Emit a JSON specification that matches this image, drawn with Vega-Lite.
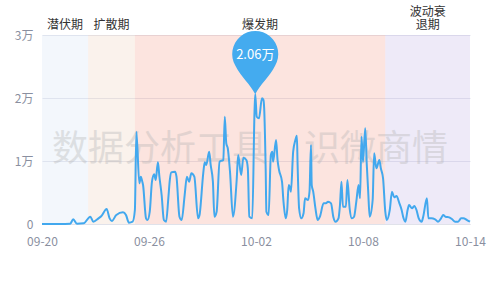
{
  "$schema": "https://vega.github.io/schema/vega-lite/v6.json",
  "width": 428,
  "height": 189,
  "autosize": {"type": "none"},
  "padding": {"left": 42, "top": 35, "right": 30, "bottom": 76},
  "background": "#ffffff",
  "config": {
    "view": {"stroke": null},
    "font": "Noto Sans CJK SC",
    "axis": {"labelFont": "Noto Sans CJK SC", "labelFontSize": 12, "labelColor": "#8a8fa0", "ticks": false, "title": null, "gridColor": "#e3e4ec", "domainColor": "#e0e2ea"}
  },
  "datasets": {
    "series": [
      {"t": "2021-09-20T00:00", "v": 0},
      {"t": "2021-09-21T00:00", "v": 0},
      {"t": "2021-09-21T14:00", "v": 50},
      {"t": "2021-09-21T18:00", "v": 750},
      {"t": "2021-09-21T23:00", "v": 50},
      {"t": "2021-09-22T08:00", "v": 100},
      {"t": "2021-09-22T17:00", "v": 1160},
      {"t": "2021-09-22T21:00", "v": 370},
      {"t": "2021-09-23T04:00", "v": 900},
      {"t": "2021-09-23T08:00", "v": 1270},
      {"t": "2021-09-23T15:00", "v": 2380},
      {"t": "2021-09-23T19:00", "v": 900},
      {"t": "2021-09-23T22:00", "v": 480},
      {"t": "2021-09-24T04:00", "v": 1430},
      {"t": "2021-09-24T13:00", "v": 1850},
      {"t": "2021-09-24T17:00", "v": 1430},
      {"t": "2021-09-24T21:00", "v": 210},
      {"t": "2021-09-25T02:00", "v": 370},
      {"t": "2021-09-25T05:00", "v": 2220},
      {"t": "2021-09-25T07:00", "v": 14650},
      {"t": "2021-09-25T11:00", "v": 6460},
      {"t": "2021-09-25T13:00", "v": 7510},
      {"t": "2021-09-25T15:00", "v": 6720},
      {"t": "2021-09-25T16:00", "v": 6190},
      {"t": "2021-09-25T20:00", "v": 900},
      {"t": "2021-09-25T22:00", "v": 630},
      {"t": "2021-09-26T01:00", "v": 1950},
      {"t": "2021-09-26T04:00", "v": 6720},
      {"t": "2021-09-26T07:00", "v": 7890},
      {"t": "2021-09-26T09:00", "v": 6980},
      {"t": "2021-09-26T12:00", "v": 9790},
      {"t": "2021-09-26T14:00", "v": 7510},
      {"t": "2021-09-26T17:00", "v": 4600},
      {"t": "2021-09-26T20:00", "v": 630},
      {"t": "2021-09-26T23:00", "v": 370},
      {"t": "2021-09-27T02:00", "v": 4080},
      {"t": "2021-09-27T04:00", "v": 6980},
      {"t": "2021-09-27T06:00", "v": 8200},
      {"t": "2021-09-27T11:00", "v": 8310},
      {"t": "2021-09-27T13:00", "v": 7510},
      {"t": "2021-09-27T17:00", "v": 1160},
      {"t": "2021-09-27T20:00", "v": 630},
      {"t": "2021-09-28T00:00", "v": 4600},
      {"t": "2021-09-28T03:00", "v": 7510},
      {"t": "2021-09-28T06:00", "v": 6720},
      {"t": "2021-09-28T09:00", "v": 8040},
      {"t": "2021-09-28T13:00", "v": 7510},
      {"t": "2021-09-28T18:00", "v": 900},
      {"t": "2021-09-28T20:00", "v": 1430},
      {"t": "2021-09-29T01:00", "v": 8040},
      {"t": "2021-09-29T03:00", "v": 9790},
      {"t": "2021-09-29T05:00", "v": 9370},
      {"t": "2021-09-29T09:00", "v": 11480},
      {"t": "2021-09-29T11:00", "v": 9370},
      {"t": "2021-09-29T14:00", "v": 6720},
      {"t": "2021-09-29T16:00", "v": 1160},
      {"t": "2021-09-29T19:00", "v": 1950},
      {"t": "2021-09-29T23:00", "v": 9890},
      {"t": "2021-09-30T04:00", "v": 10160},
      {"t": "2021-09-30T06:00", "v": 17030},
      {"t": "2021-09-30T08:00", "v": 12810},
      {"t": "2021-09-30T10:00", "v": 12020},
      {"t": "2021-09-30T13:00", "v": 8310},
      {"t": "2021-09-30T17:00", "v": 1160},
      {"t": "2021-09-30T22:00", "v": 6980},
      {"t": "2021-10-01T00:00", "v": 10950},
      {"t": "2021-10-01T04:00", "v": 7780},
      {"t": "2021-10-01T07:00", "v": 10520},
      {"t": "2021-10-01T11:00", "v": 10160},
      {"t": "2021-10-01T13:00", "v": 8840},
      {"t": "2021-10-01T15:00", "v": 1160},
      {"t": "2021-10-01T19:00", "v": 900},
      {"t": "2021-10-01T22:00", "v": 17820},
      {"t": "2021-10-01T23:00", "v": 20600},
      {"t": "2021-10-02T01:00", "v": 17030},
      {"t": "2021-10-02T04:00", "v": 16770},
      {"t": "2021-10-02T08:00", "v": 19950},
      {"t": "2021-10-02T10:00", "v": 19680},
      {"t": "2021-10-02T11:00", "v": 18360},
      {"t": "2021-10-02T13:00", "v": 8840},
      {"t": "2021-10-02T14:00", "v": 1950},
      {"t": "2021-10-02T17:00", "v": 1430},
      {"t": "2021-10-02T20:00", "v": 10950},
      {"t": "2021-10-02T22:00", "v": 11480},
      {"t": "2021-10-02T23:00", "v": 9890},
      {"t": "2021-10-03T03:00", "v": 13330},
      {"t": "2021-10-03T05:00", "v": 10160},
      {"t": "2021-10-03T07:00", "v": 8570},
      {"t": "2021-10-03T11:00", "v": 6720},
      {"t": "2021-10-03T13:00", "v": 3540},
      {"t": "2021-10-03T16:00", "v": 900},
      {"t": "2021-10-03T18:00", "v": 2220},
      {"t": "2021-10-03T20:00", "v": 6190},
      {"t": "2021-10-03T22:00", "v": 5660},
      {"t": "2021-10-03T23:00", "v": 5130},
      {"t": "2021-10-04T02:00", "v": 11480},
      {"t": "2021-10-04T05:00", "v": 13330},
      {"t": "2021-10-04T07:00", "v": 14020},
      {"t": "2021-10-04T08:00", "v": 9370},
      {"t": "2021-10-04T10:00", "v": 2490},
      {"t": "2021-10-04T13:00", "v": 900},
      {"t": "2021-10-04T16:00", "v": 1700},
      {"t": "2021-10-04T18:00", "v": 4080},
      {"t": "2021-10-04T22:00", "v": 3810},
      {"t": "2021-10-05T00:00", "v": 5130},
      {"t": "2021-10-05T02:00", "v": 12540},
      {"t": "2021-10-05T03:00", "v": 6190},
      {"t": "2021-10-05T05:00", "v": 5130},
      {"t": "2021-10-05T08:00", "v": 2490},
      {"t": "2021-10-05T11:00", "v": 630},
      {"t": "2021-10-05T14:00", "v": 1160},
      {"t": "2021-10-05T19:00", "v": 3280},
      {"t": "2021-10-05T22:00", "v": 3280},
      {"t": "2021-10-06T01:00", "v": 3540},
      {"t": "2021-10-06T05:00", "v": 3280},
      {"t": "2021-10-06T08:00", "v": 1160},
      {"t": "2021-10-06T11:00", "v": 370},
      {"t": "2021-10-06T15:00", "v": 900},
      {"t": "2021-10-06T17:00", "v": 3020},
      {"t": "2021-10-06T19:00", "v": 6720},
      {"t": "2021-10-06T21:00", "v": 2750},
      {"t": "2021-10-07T01:00", "v": 2750},
      {"t": "2021-10-07T03:00", "v": 6980},
      {"t": "2021-10-07T06:00", "v": 2490},
      {"t": "2021-10-07T09:00", "v": 900},
      {"t": "2021-10-07T12:00", "v": 1160},
      {"t": "2021-10-07T15:00", "v": 3540},
      {"t": "2021-10-07T18:00", "v": 6190},
      {"t": "2021-10-07T20:00", "v": 4080},
      {"t": "2021-10-07T22:00", "v": 13860},
      {"t": "2021-10-08T00:00", "v": 9890},
      {"t": "2021-10-08T03:00", "v": 15190},
      {"t": "2021-10-08T05:00", "v": 9630},
      {"t": "2021-10-08T07:00", "v": 5130},
      {"t": "2021-10-08T09:00", "v": 1160},
      {"t": "2021-10-08T13:00", "v": 3810},
      {"t": "2021-10-08T15:00", "v": 11220},
      {"t": "2021-10-08T18:00", "v": 8840},
      {"t": "2021-10-08T22:00", "v": 10160},
      {"t": "2021-10-09T00:00", "v": 8840},
      {"t": "2021-10-09T03:00", "v": 7250},
      {"t": "2021-10-09T06:00", "v": 1950},
      {"t": "2021-10-09T08:00", "v": 630},
      {"t": "2021-10-09T12:00", "v": 2220},
      {"t": "2021-10-09T15:00", "v": 5130},
      {"t": "2021-10-09T18:00", "v": 4230},
      {"t": "2021-10-09T21:00", "v": 4440},
      {"t": "2021-10-10T01:00", "v": 3280},
      {"t": "2021-10-10T04:00", "v": 2220},
      {"t": "2021-10-10T06:00", "v": 1160},
      {"t": "2021-10-10T09:00", "v": 370},
      {"t": "2021-10-10T12:00", "v": 2220},
      {"t": "2021-10-10T14:00", "v": 3020},
      {"t": "2021-10-10T18:00", "v": 2490},
      {"t": "2021-10-10T21:00", "v": 2860},
      {"t": "2021-10-11T00:00", "v": 2220},
      {"t": "2021-10-11T03:00", "v": 900},
      {"t": "2021-10-11T07:00", "v": 370},
      {"t": "2021-10-11T09:00", "v": 1160},
      {"t": "2021-10-11T14:00", "v": 4080},
      {"t": "2021-10-11T16:00", "v": 900},
      {"t": "2021-10-11T20:00", "v": 900},
      {"t": "2021-10-12T01:00", "v": 750},
      {"t": "2021-10-12T05:00", "v": 370},
      {"t": "2021-10-12T09:00", "v": 900},
      {"t": "2021-10-12T12:00", "v": 1430},
      {"t": "2021-10-12T15:00", "v": 1160},
      {"t": "2021-10-12T20:00", "v": 1060},
      {"t": "2021-10-13T00:00", "v": 750},
      {"t": "2021-10-13T04:00", "v": 370},
      {"t": "2021-10-13T08:00", "v": 370},
      {"t": "2021-10-13T12:00", "v": 900},
      {"t": "2021-10-13T15:00", "v": 900},
      {"t": "2021-10-13T20:00", "v": 630},
      {"t": "2021-10-14T00:00", "v": 370}
    ],
    "phases": [
      {"phase": "潜伏期", "label": "潜伏期", "start": "2021-09-20T00:00", "end": "2021-09-22T14:00"},
      {"phase": "扩散期", "label": "扩散期", "start": "2021-09-22T14:00", "end": "2021-09-25T05:00"},
      {"phase": "爆发期", "label": "爆发期", "start": "2021-09-25T05:00", "end": "2021-10-09T06:00"},
      {"phase": "波动衰退期", "label": "波动衰|退期", "start": "2021-10-09T06:00", "end": "2021-10-14T00:00"}
    ]
  },
  "layer": [
    {
      "data": {"name": "phases"},
      "mark": {"type": "rect", "opacity": 0.3},
      "encoding": {
        "x": {"field": "start", "type": "temporal"},
        "x2": {"field": "end"},
        "color": {
          "field": "phase",
          "type": "nominal",
          "legend": null,
          "scale": {
            "domain": ["潜伏期", "扩散期", "爆发期", "波动衰退期"],
            "range": ["#d7e4f5", "#eed4c0", "#f5a594", "#c6b9e8"]
          }
        }
      }
    },
    {
      "data": {"name": "phases"},
      "transform": [
        {"filter": "datum.phase != '波动衰退期'"},
        {"calculate": "(toDate(datum.start) + toDate(datum.end)) / 2", "as": "mid"}
      ],
      "mark": {"type": "text", "baseline": "bottom", "align": "center", "dy": -3, "fontSize": 12, "color": "#333333"},
      "encoding": {
        "x": {"field": "mid", "type": "temporal"},
        "y": {"datum": 30000},
        "text": {"field": "label"}
      }
    },
    {
      "data": {"name": "phases"},
      "transform": [
        {"filter": "datum.phase == '波动衰退期'"},
        {"calculate": "(toDate(datum.start) + toDate(datum.end)) / 2", "as": "mid"}
      ],
      "mark": {"type": "text", "baseline": "bottom", "align": "center", "dy": -16, "fontSize": 12, "color": "#333333", "lineBreak": "|", "lineHeight": 13},
      "encoding": {
        "x": {"field": "mid", "type": "temporal"},
        "y": {"datum": 30000},
        "text": {"field": "label"}
      }
    },
    {
      "data": {"values": [{}]},
      "mark": {"type": "text", "align": "center", "baseline": "middle", "fontSize": 36, "color": "#b5b5b5", "opacity": 0.36},
      "encoding": {
        "x": {"datum": {"year": 2021, "month": 10, "date": 1, "hours": 16}, "type": "temporal"},
        "y": {"datum": 11750},
        "text": {"value": "数据分析工具　识微商情"}
      }
    },
    {
      "data": {"name": "series"},
      "mark": {"type": "line", "color": "#42a8ee", "strokeWidth": 2, "interpolate": "monotone"},
      "encoding": {
        "x": {
          "field": "t",
          "type": "temporal",
          "scale": {"domain": [{"year": 2021, "month": 9, "date": 20}, {"year": 2021, "month": 10, "date": 14}]},
          "axis": {
            "values": [
              {"year": 2021, "month": 9, "date": 20},
              {"year": 2021, "month": 9, "date": 26},
              {"year": 2021, "month": 10, "date": 2},
              {"year": 2021, "month": 10, "date": 8},
              {"year": 2021, "month": 10, "date": 14}
            ],
            "format": "%m-%d",
            "grid": false,
            "domain": true,
            "labelPadding": 12,
            "labelFlush": false,
            "labelOverlap": false
          }
        },
        "y": {
          "field": "v",
          "type": "quantitative",
          "scale": {"domain": [0, 30000]},
          "axis": {
            "values": [0, 10000, 20000, 30000],
            "labelExpr": "datum.value == 0 ? '0' : (datum.value / 10000) + '万'",
            "grid": true,
            "domain": false,
            "labelPadding": 9
          }
        }
      }
    },
    {
      "data": {"name": "series"},
      "transform": [
        {"joinaggregate": [{"op": "max", "field": "v", "as": "vmax"}]},
        {"filter": "datum.v == datum.vmax"}
      ],
      "mark": {"type": "point", "filled": true, "opacity": 1, "color": "#44abef", "size": 4096, "shape": "M0,0 C-0.15,-0.3 -0.45,-0.55 -0.62,-0.89 A0.72,0.72 0 1 1 0.62,-0.89 C0.45,-0.55 0.15,-0.3 0,0 Z"},
      "encoding": {
        "x": {"field": "t", "type": "temporal"},
        "y": {"field": "v", "type": "quantitative"}
      }
    },
    {
      "data": {"name": "series"},
      "transform": [
        {"joinaggregate": [{"op": "max", "field": "v", "as": "vmax"}]},
        {"filter": "datum.v == datum.vmax"},
        {"calculate": "format(datum.v / 10000, '.2f') + '万'", "as": "lbl"}
      ],
      "mark": {"type": "text", "color": "#ffffff", "fontSize": 13, "align": "center", "baseline": "middle", "dy": -39},
      "encoding": {
        "x": {"field": "t", "type": "temporal"},
        "y": {"field": "v", "type": "quantitative"},
        "text": {"field": "lbl"}
      }
    }
  ]
}
